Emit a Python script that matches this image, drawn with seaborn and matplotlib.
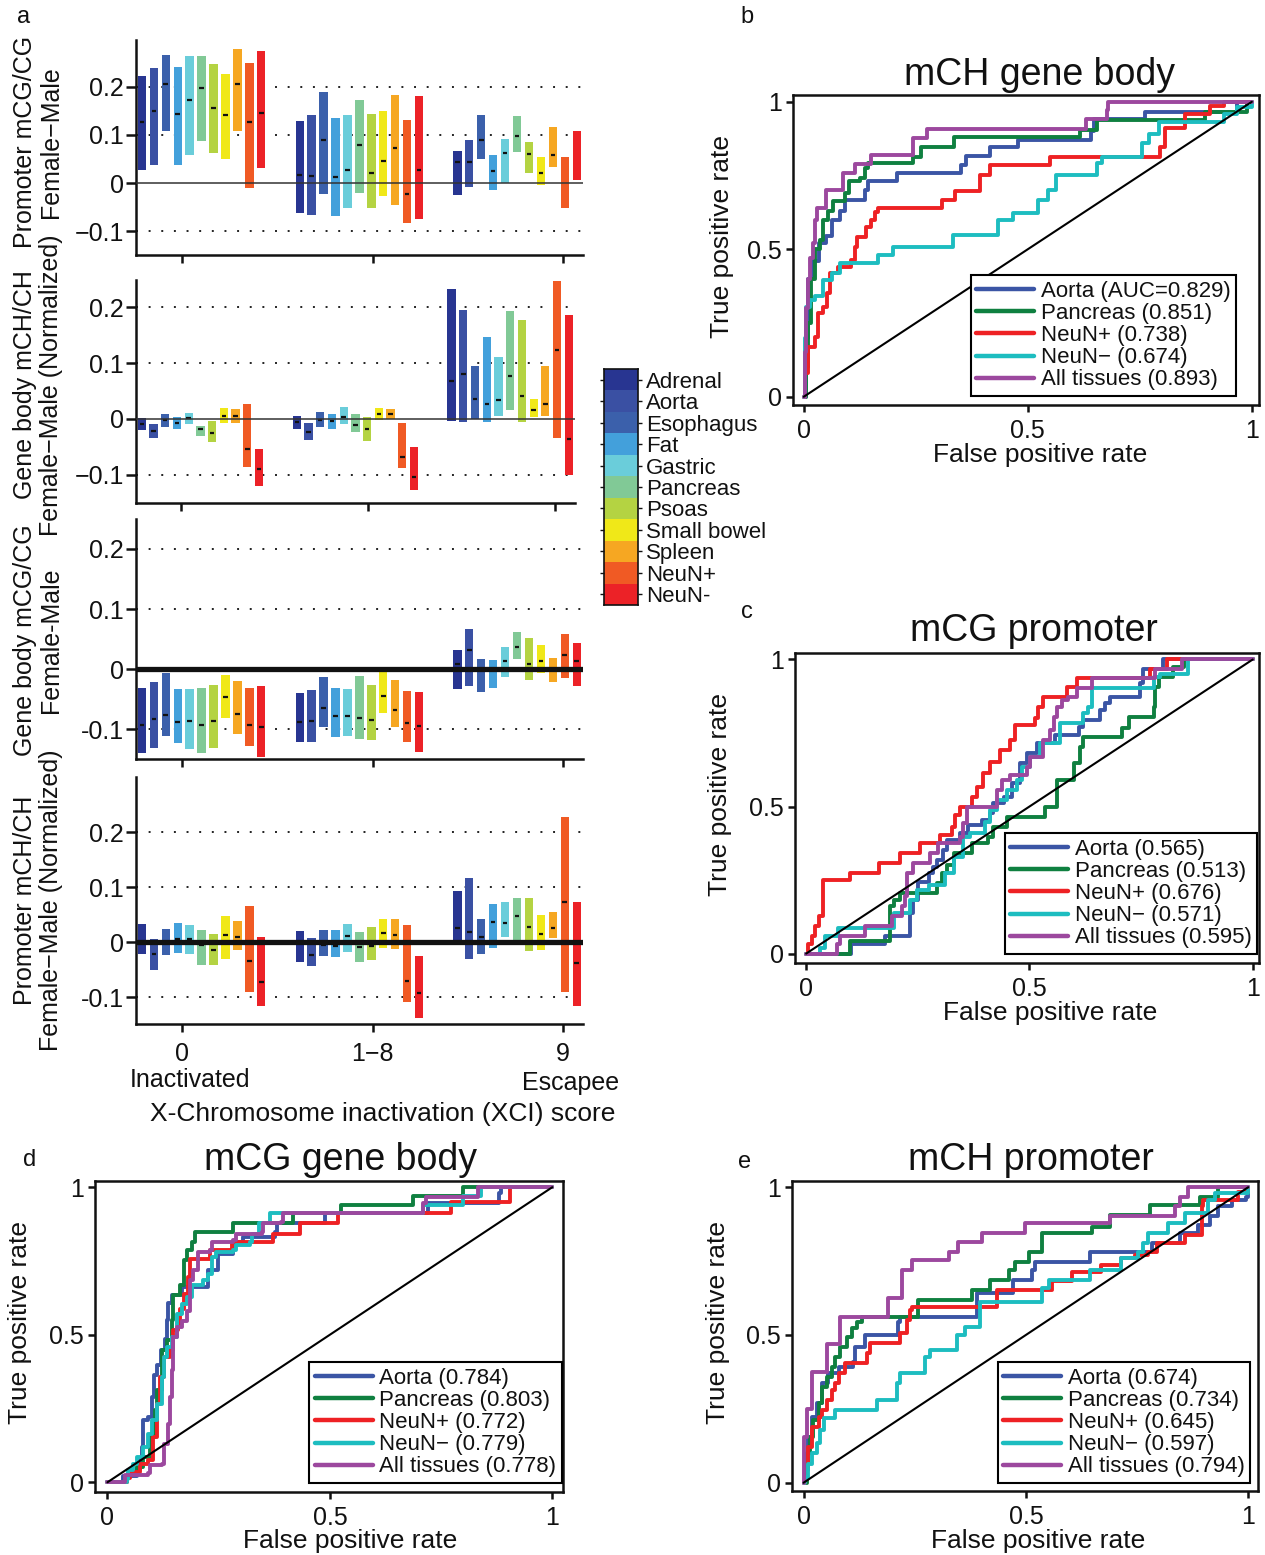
import numpy as np
import pandas as pd
import matplotlib
matplotlib.use("Agg")
import matplotlib.pyplot as plt
import seaborn as sns
from matplotlib.colors import ListedColormap

# ---------------------------------------------------------------- data
tissues = ["Adrenal", "Aorta", "Esophagus", "Fat", "Gastric", "Pancreas",
           "Psoas", "Small bowel", "Spleen", "NeuN+", "NeuN-"]
tissue_colors = ["#283591", "#3a50a3", "#3b60ab", "#43a0db", "#6acdda", "#81c996",
                 "#b4d342", "#f0e818", "#f6a722", "#f05a24", "#ec2227"]
xci_tick_labels = ["0", "1\u22128", "9"]
nan = float("nan")

# panel a1 : Promoter mCG/CG Female-Male   (one list per XCI group: 0, 1-8, 9)
prom_mcg_high = [[0.222, 0.239, 0.266, 0.242, 0.263, 0.263, 0.248, 0.227, 0.278, 0.250, 0.275],
                 [0.130, 0.141, 0.189, 0.135, 0.142, 0.173, 0.143, 0.149, 0.182, 0.131, 0.181],
                 [0.066, 0.090, 0.142, 0.058, 0.092, 0.139, 0.086, 0.054, 0.117, 0.054, 0.109]]
prom_mcg_low = [[0.028, 0.037, 0.108, 0.038, 0.059, 0.088, 0.063, 0.051, 0.108, -0.010, 0.032],
                [-0.062, -0.066, -0.023, -0.068, -0.052, -0.020, -0.052, -0.026, -0.045, -0.082, -0.074],
                [-0.024, -0.008, 0.050, -0.014, 0.000, 0.065, 0.022, -0.004, 0.033, -0.052, 0.007]]
prom_mcg_med = [[0.127, 0.150, 0.206, 0.144, 0.172, 0.197, 0.156, 0.141, 0.206, 0.127, 0.146],
                [0.017, 0.014, 0.090, 0.012, 0.028, 0.079, 0.021, 0.046, 0.073, -0.023, 0.028],
                [0.043, 0.044, 0.090, 0.026, 0.063, 0.097, 0.061, 0.022, 0.059, nan, nan]]

# panel a2 : Gene body mCH/CH Female-Male (Normalized)
body_mch_high = [[0.002, -0.010, 0.008, 0.004, 0.011, -0.012, -0.004, 0.020, 0.017, 0.026, -0.055],
                 [0.005, -0.007, 0.013, 0.008, 0.021, 0.008, 0.004, 0.020, 0.018, -0.007, -0.051],
                 [0.232, 0.196, 0.095, 0.147, 0.110, 0.193, 0.178, 0.035, 0.095, 0.248, 0.186]]
body_mch_low = [[-0.020, -0.034, -0.014, -0.018, -0.010, -0.031, -0.041, -0.008, -0.007, -0.086, -0.120],
                [-0.019, -0.038, -0.014, -0.018, -0.010, -0.023, -0.040, -0.003, 0.000, -0.088, -0.128],
                [-0.004, -0.005, 0.000, -0.005, 0.005, 0.015, -0.005, 0.004, 0.005, -0.034, -0.101]]
body_mch_med = [[-0.009, -0.022, -0.003, -0.008, 0.001, -0.019, -0.025, 0.005, 0.005, -0.055, -0.090],
                [-0.005, -0.023, -0.003, -0.004, 0.004, -0.011, -0.019, 0.008, 0.009, -0.068, -0.104],
                [0.068, 0.081, 0.036, 0.026, 0.034, 0.076, 0.041, 0.016, 0.026, 0.124, -0.037]]

# panel a3 : Gene body mCG/CG Female-Male
body_mcg_high = [[-0.031, -0.022, -0.006, -0.033, -0.033, -0.031, -0.026, -0.010, -0.020, -0.031, -0.029],
                 [-0.040, -0.035, -0.014, -0.032, -0.034, -0.011, -0.026, 0.004, -0.018, -0.037, -0.038],
                 [0.032, 0.067, 0.017, 0.015, 0.036, 0.061, 0.052, 0.040, 0.018, 0.058, 0.044]]
body_mcg_low = [[-0.140, -0.131, -0.111, -0.123, -0.133, -0.140, -0.132, -0.082, -0.109, -0.128, -0.147],
                [-0.122, -0.121, -0.097, -0.114, -0.112, -0.116, -0.119, -0.074, -0.097, -0.121, -0.138],
                [-0.033, -0.028, -0.039, -0.032, -0.014, 0.017, -0.018, -0.007, -0.021, -0.015, -0.029]]
body_mcg_med = [[-0.094, -0.083, -0.076, -0.088, -0.086, -0.094, -0.086, -0.047, -0.075, -0.094, -0.096],
                [-0.088, -0.086, -0.065, -0.079, -0.079, -0.081, -0.085, -0.045, -0.069, -0.090, -0.095],
                [0.008, 0.032, 0.000, 0.000, 0.014, 0.037, 0.008, 0.013, 0.000, 0.024, 0.013]]

# panel a4 : Promoter mCH/CH Female-Male (Normalized)
prom_mch_high = [[0.032, 0.006, 0.024, 0.034, 0.031, 0.021, 0.014, 0.048, 0.038, 0.065, 0.010],
                 [0.020, 0.008, 0.021, 0.022, 0.033, 0.018, 0.028, 0.042, 0.042, 0.031, -0.026],
                 [0.093, 0.116, 0.041, 0.070, 0.073, 0.080, 0.080, 0.050, 0.055, 0.228, 0.072]]
prom_mch_low = [[-0.022, -0.050, -0.024, -0.020, -0.022, -0.042, -0.041, -0.030, -0.015, -0.091, -0.116],
                [-0.037, -0.043, -0.026, -0.027, -0.019, -0.036, -0.033, -0.011, -0.013, -0.109, -0.139],
                [-0.001, -0.030, -0.022, -0.010, 0.009, -0.005, -0.017, -0.014, 0.008, -0.090, -0.117]]
prom_mch_med = [[0.000, -0.022, 0.000, 0.006, 0.005, -0.005, -0.015, 0.013, 0.009, -0.035, -0.073],
                [0.000, -0.023, -0.005, -0.007, 0.011, -0.009, -0.007, 0.016, 0.013, -0.071, -0.093],
                [0.026, 0.019, 0.009, 0.037, 0.035, 0.048, 0.027, 0.015, 0.025, 0.073, -0.038]]

# ROC curves: (false positive rate, true positive rate) step vertices
roc_colors = ["#3b55a5", "#0f8040", "#ee2124", "#1dbdc0", "#9c489e"]

b_labels = ["Aorta (AUC=0.829)", "Pancreas (0.851)", "NeuN+ (0.738)", "NeuN\u2212 (0.674)", "All tissues (0.893)"]
b_aorta = [(0, 0), (0.004, 0.2), (0.01, 0.4), (0.02, 0.46), (0.035, 0.52), (0.05, 0.545), (0.062, 0.6),
           (0.08, 0.63), (0.092, 0.667), (0.136, 0.7), (0.144, 0.73), (0.207, 0.758), (0.352, 0.786),
           (0.363, 0.815), (0.416, 0.848), (0.479, 0.87), (0.641, 0.9), (0.648, 0.94), (0.762, 0.967),
           (0.966, 1.0), (1, 1)]
b_pancreas = [(0, 0), (0.005, 0.1), (0.01, 0.25), (0.017, 0.4), (0.025, 0.5), (0.036, 0.53), (0.043, 0.6),
              (0.054, 0.63), (0.066, 0.665), (0.092, 0.69), (0.1, 0.73), (0.125, 0.74), (0.136, 0.775),
              (0.144, 0.792), (0.244, 0.814), (0.262, 0.848), (0.336, 0.882), (0.617, 0.905), (0.654, 0.939),
              (0.896, 0.967), (0.989, 1.0), (1, 1)]
b_neunp = [(0, 0), (0.002, 0.08), (0.01, 0.17), (0.025, 0.204), (0.032, 0.283), (0.043, 0.305), (0.051, 0.351),
           (0.058, 0.419), (0.077, 0.441), (0.106, 0.464), (0.114, 0.509), (0.118, 0.543), (0.14, 0.577),
           (0.151, 0.6), (0.159, 0.628), (0.166, 0.639), (0.308, 0.667), (0.337, 0.696), (0.393, 0.752),
           (0.415, 0.786), (0.55, 0.814), (0.795, 0.848), (0.806, 0.91), (0.851, 0.96), (0.907, 0.985),
           (0.937, 1.0), (1, 1)]
b_neunm = [(0, 0), (0.002, 0.2), (0.004, 0.305), (0.013, 0.328), (0.025, 0.34), (0.043, 0.396), (0.062, 0.42),
           (0.08, 0.452), (0.166, 0.48), (0.2, 0.509), (0.334, 0.549), (0.434, 0.6), (0.468, 0.622),
           (0.523, 0.667), (0.545, 0.7), (0.564, 0.752), (0.654, 0.792), (0.665, 0.814), (0.754, 0.86),
           (0.77, 0.89), (0.792, 0.933), (0.937, 0.96), (0.966, 0.983), (1, 1)]
b_all = [(0, 0), (0.003, 0.15), (0.006, 0.3), (0.01, 0.4), (0.015, 0.47), (0.02, 0.52), (0.025, 0.6),
         (0.03, 0.64), (0.05, 0.70), (0.088, 0.76), (0.114, 0.79), (0.151, 0.82), (0.244, 0.877),
         (0.274, 0.907), (0.63, 0.94), (0.676, 0.973), (0.68, 1.0), (1, 1)]

c_labels = ["Aorta (0.565)", "Pancreas (0.513)", "NeuN+ (0.676)", "NeuN\u2212 (0.571)", "All tissues (0.595)"]
c_aorta = [(0, 0), (0.101, 0.031), (0.177, 0.059), (0.233, 0.138), (0.24, 0.183), (0.251, 0.245), (0.274, 0.274),
           (0.285, 0.296), (0.293, 0.319), (0.307, 0.353), (0.315, 0.387), (0.345, 0.41), (0.363, 0.438),
           (0.393, 0.455), (0.412, 0.477), (0.419, 0.511), (0.442, 0.534), (0.46, 0.58), (0.479, 0.647),
           (0.494, 0.681), (0.516, 0.715), (0.557, 0.743), (0.61, 0.771), (0.621, 0.794), (0.658, 0.828),
           (0.669, 0.851), (0.681, 0.873), (0.748, 0.919), (0.755, 0.969), (0.8, 1.0), (1, 1)]
c_pancreas = [(0, 0), (0.099, 0.042), (0.188, 0.161), (0.196, 0.183), (0.21, 0.206), (0.293, 0.24),
              (0.304, 0.274), (0.315, 0.30), (0.33, 0.342), (0.371, 0.376), (0.408, 0.398), (0.419, 0.432),
              (0.449, 0.466), (0.535, 0.5), (0.561, 0.59), (0.599, 0.647), (0.613, 0.704), (0.621, 0.738),
              (0.707, 0.766), (0.722, 0.805), (0.778, 0.839), (0.781, 0.907), (0.789, 0.941), (0.822, 0.975),
              (0.845, 1.0), (1, 1)]
c_neunp = [(0, 0), (0.005, 0.031), (0.013, 0.059), (0.02, 0.093), (0.028, 0.127), (0.037, 0.251), (0.099, 0.274),
           (0.162, 0.308), (0.21, 0.342), (0.255, 0.376), (0.3, 0.404), (0.326, 0.432), (0.334, 0.472),
           (0.345, 0.5), (0.371, 0.534), (0.382, 0.568), (0.397, 0.613), (0.412, 0.653), (0.434, 0.692),
           (0.457, 0.726), (0.468, 0.777), (0.513, 0.8), (0.52, 0.839), (0.531, 0.873), (0.584, 0.907),
           (0.606, 0.936), (0.77, 0.969), (0.807, 1.0), (1, 1)]
c_neunm = [(0, 0), (0.031, 0.019), (0.043, 0.059), (0.072, 0.087), (0.196, 0.138), (0.233, 0.183), (0.248, 0.217),
           (0.274, 0.234), (0.311, 0.274), (0.33, 0.33), (0.352, 0.398), (0.367, 0.41), (0.401, 0.449),
           (0.412, 0.489), (0.427, 0.523), (0.449, 0.557), (0.472, 0.591), (0.483, 0.636), (0.501, 0.67),
           (0.524, 0.715), (0.569, 0.783), (0.621, 0.817), (0.632, 0.839), (0.64, 0.902), (0.778, 0.941),
           (0.793, 0.952), (0.856, 1.0), (1, 1)]
c_all = [(0, 0), (0.069, 0.031), (0.076, 0.059), (0.132, 0.093), (0.192, 0.127), (0.214, 0.161), (0.222, 0.195),
         (0.225, 0.274), (0.24, 0.308), (0.278, 0.342), (0.296, 0.376), (0.345, 0.398), (0.352, 0.443),
         (0.36, 0.5), (0.427, 0.557), (0.438, 0.591), (0.457, 0.608), (0.494, 0.636), (0.501, 0.67),
         (0.531, 0.726), (0.546, 0.76), (0.554, 0.805), (0.561, 0.839), (0.572, 0.862), (0.587, 0.873),
         (0.606, 0.902), (0.64, 0.936), (0.781, 0.969), (0.841, 1.0), (1, 1)]

d_labels = ["Aorta (0.784)", "Pancreas (0.803)", "NeuN+ (0.772)", "NeuN\u2212 (0.779)", "All tissues (0.778)"]
d_aorta = [(0, 0), (0.036, 0.02), (0.066, 0.046), (0.073, 0.075), (0.077, 0.12), (0.081, 0.21), (0.092, 0.221),
           (0.1, 0.289), (0.104, 0.363), (0.111, 0.397), (0.12, 0.447), (0.129, 0.487), (0.133, 0.549),
           (0.137, 0.606), (0.144, 0.634), (0.167, 0.662), (0.227, 0.719), (0.249, 0.775), (0.283, 0.815),
           (0.305, 0.832), (0.376, 0.849), (0.38, 0.877), (0.49, 0.911), (0.72, 0.945), (0.88, 0.979),
           (0.885, 1.0), (1, 1)]
d_pancreas = [(0, 0), (0.043, 0.02), (0.051, 0.035), (0.066, 0.052), (0.081, 0.086), (0.096, 0.154),
              (0.107, 0.244), (0.111, 0.312), (0.122, 0.447), (0.133, 0.481), (0.144, 0.549), (0.148, 0.634),
              (0.163, 0.668), (0.171, 0.753), (0.178, 0.786), (0.189, 0.815), (0.197, 0.849), (0.283, 0.877),
              (0.418, 0.911), (0.526, 0.939), (0.687, 0.969), (0.8, 1.0), (1, 1)]
d_neunp = [(0, 0), (0.043, 0.013), (0.051, 0.035), (0.073, 0.063), (0.092, 0.075), (0.103, 0.154), (0.111, 0.266),
           (0.118, 0.356), (0.126, 0.425), (0.141, 0.447), (0.148, 0.515), (0.159, 0.537), (0.163, 0.588),
           (0.171, 0.639), (0.182, 0.695), (0.186, 0.757), (0.231, 0.786), (0.279, 0.815), (0.373, 0.843),
           (0.433, 0.877), (0.519, 0.911), (0.773, 0.95), (0.904, 1.0), (1, 1)]
d_neunm = [(0, 0), (0.043, 0.01), (0.047, 0.04), (0.058, 0.063), (0.066, 0.086), (0.081, 0.12), (0.092, 0.165),
           (0.1, 0.21), (0.111, 0.266), (0.122, 0.356), (0.126, 0.425), (0.133, 0.459), (0.144, 0.492),
           (0.156, 0.571), (0.167, 0.605), (0.178, 0.628), (0.189, 0.668), (0.215, 0.685), (0.227, 0.707),
           (0.234, 0.763), (0.245, 0.78), (0.283, 0.786), (0.29, 0.803), (0.32, 0.815), (0.324, 0.843),
           (0.34, 0.877), (0.365, 0.911), (0.71, 0.94), (0.8, 0.97), (0.84, 1.0), (1, 1)]
d_all = [(0, 0), (0.036, 0.0), (0.04, 0.024), (0.092, 0.03), (0.096, 0.058), (0.122, 0.063), (0.126, 0.13),
         (0.137, 0.198), (0.141, 0.289), (0.144, 0.38), (0.148, 0.492), (0.156, 0.525), (0.167, 0.547),
         (0.178, 0.582), (0.186, 0.685), (0.193, 0.718), (0.204, 0.78), (0.231, 0.786), (0.235, 0.815),
         (0.283, 0.82), (0.29, 0.843), (0.347, 0.849), (0.35, 0.877), (0.391, 0.882), (0.395, 0.911),
         (0.71, 0.945), (0.717, 0.966), (0.833, 1.0), (1, 1)]

e_labels = ["Aorta (0.674)", "Pancreas (0.734)", "NeuN+ (0.645)", "NeuN\u2212 (0.597)", "All tissues (0.794)"]
e_aorta = [(0, 0), (0.004, 0.065), (0.011, 0.156), (0.019, 0.223), (0.03, 0.269), (0.041, 0.336), (0.056, 0.37),
           (0.079, 0.393), (0.112, 0.41), (0.116, 0.46), (0.139, 0.5), (0.213, 0.545), (0.217, 0.562),
           (0.39, 0.641), (0.472, 0.686), (0.513, 0.72), (0.521, 0.748), (0.644, 0.782), (0.783, 0.81),
           (0.846, 0.844), (0.888, 0.872), (0.914, 0.901), (0.933, 0.935), (0.963, 0.957), (0.995, 0.968),
           (1, 1)]
e_pancreas = [(0, 0), (0.007, 0.099), (0.015, 0.156), (0.022, 0.212), (0.034, 0.269), (0.041, 0.325),
              (0.052, 0.359), (0.064, 0.393), (0.071, 0.427), (0.082, 0.46), (0.097, 0.494), (0.109, 0.523),
              (0.12, 0.545), (0.131, 0.562), (0.258, 0.619), (0.378, 0.652), (0.419, 0.686), (0.461, 0.72),
              (0.476, 0.748), (0.506, 0.782), (0.536, 0.844), (0.648, 0.867), (0.689, 0.906), (0.779, 0.94),
              (0.891, 0.968), (0.933, 1.0), (1, 1)]
e_neunp = [(0, 0), (0.004, 0.043), (0.011, 0.122), (0.019, 0.19), (0.034, 0.223), (0.041, 0.246), (0.052, 0.28),
           (0.064, 0.314), (0.071, 0.336), (0.079, 0.37), (0.094, 0.404), (0.142, 0.438), (0.15, 0.472),
           (0.217, 0.506), (0.232, 0.551), (0.24, 0.585), (0.243, 0.596), (0.434, 0.652), (0.558, 0.681),
           (0.603, 0.714), (0.67, 0.737), (0.715, 0.76), (0.745, 0.77), (0.775, 0.782), (0.794, 0.81),
           (0.858, 0.839), (0.895, 0.935), (0.899, 0.957), (0.978, 0.985), (1, 1)]
e_neunm = [(0, 0), (0.004, 0.02), (0.011, 0.065), (0.019, 0.099), (0.03, 0.133), (0.037, 0.178), (0.045, 0.218),
           (0.071, 0.246), (0.165, 0.28), (0.21, 0.336), (0.217, 0.37), (0.273, 0.427), (0.285, 0.449),
           (0.345, 0.5), (0.363, 0.528), (0.397, 0.613), (0.536, 0.658), (0.551, 0.686), (0.644, 0.72),
           (0.715, 0.76), (0.753, 0.782), (0.764, 0.81), (0.775, 0.844), (0.82, 0.878), (0.858, 0.912),
           (0.91, 0.957), (0.925, 0.98), (1, 1)]
e_all = [(0, 0), (0.0, 0.156), (0.007, 0.25), (0.019, 0.376), (0.052, 0.47), (0.082, 0.562), (0.191, 0.624),
         (0.221, 0.72), (0.243, 0.754), (0.326, 0.782), (0.348, 0.816), (0.401, 0.844), (0.498, 0.878),
         (0.689, 0.901), (0.835, 0.935), (0.846, 0.968), (0.865, 1.0), (1, 1)]

# ---------------------------------------------------------------- style
sns.set_theme(style="ticks", rc={"axes.edgecolor": "#111111", "xtick.color": "#111111",
                                 "ytick.color": "#111111", "text.color": "#111111",
                                 "axes.labelcolor": "#111111", "axes.linewidth": 1.8})
plt.rcParams["font.family"] = ["Liberation Sans", "DejaVu Sans"]
plt.rcParams["axes.unicode_minus"] = True

W, H = 1265, 1555
fig = plt.figure(figsize=(W / 100, H / 100), dpi=100)


def px_rect(l, t, r, b):
    return [l / W, 1 - b / H, (r - l) / W, (b - t) / H]


def fxy(x, y):
    return (x / W, 1 - y / H)


# ---------------------------------------------------------------- panel a
group_starts = [-0.212, 0.617, 1.445]
bar_step = 0.0627
bar_width = 0.044
med_half = 0.012


def draw_xci(rect, low, high, med, ylim, minus, thick_zero, ylab, ylab_y, bottom=False):
    ax = fig.add_axes(px_rect(*rect))
    for g in range(3):
        xs = group_starts[g] + bar_step * np.arange(len(tissues))
        lo = np.array(low[g], dtype=float)
        hi = np.array(high[g], dtype=float)
        md = np.array(med[g], dtype=float)
        ax.bar(xs, hi - lo, bottom=lo, width=bar_width, color=tissue_colors, linewidth=0, zorder=2)
        ok = ~np.isnan(md)
        ax.hlines(md[ok], xs[ok] - med_half, xs[ok] + med_half, colors="#111111", lw=1.6, zorder=3)
    for yv in (-0.1, 0.1, 0.2):
        ax.axhline(yv, color="#222222", lw=1.4, ls=(0, (1, 5.5)), zorder=1)
    if thick_zero:
        ax.axhline(0, color="#111111", lw=3.8, zorder=4)
    else:
        ax.axhline(0, color="#333333", lw=1.1, zorder=4)
    ax.set_xlim(-0.243, 2.105)
    ax.set_ylim(*ylim)
    ax.set_xticks([0, 1, 2])
    ax.set_yticks([-0.1, 0, 0.1, 0.2])
    ax.set_yticklabels([minus + "0.1", "0", "0.1", "0.2"])
    ax.tick_params(axis="y", direction="out", length=7, width=1.8, pad=1.5, labelsize=18)
    ax.tick_params(axis="x", direction="out", length=6, width=1.8, pad=7, labelsize=18)
    if bottom:
        ax.set_xticklabels(xci_tick_labels)
    else:
        ax.set_xticklabels([])
    sns.despine(ax=ax)
    fig.text(*fxy(38, ylab_y), ylab, rotation=90, ha="center", va="center",
             multialignment="center", fontsize=18, linespacing=1.1)
    return ax


draw_xci((136, 40, 583, 255), prom_mcg_low, prom_mcg_high, prom_mcg_med, (-0.149, 0.297), "\u2212", False,
         "Promoter mCG/CG\nFemale\u2212Male", 142)
draw_xci((136, 280, 575, 503), body_mch_low, body_mch_high, body_mch_med, (-0.151, 0.249), "\u2212", False,
         "Gene body mCH/CH\nFemale\u2212Male (Normalized)", 385)
draw_xci((136, 519, 583, 759), body_mcg_low, body_mcg_high, body_mcg_med, (-0.15, 0.25), "-", True,
         "Gene body mCG/CG\nFemale-Male", 640)
ax4 = draw_xci((136, 777, 583, 1024), prom_mch_low, prom_mch_high, prom_mch_med, (-0.149, 0.30), "-", True,
               "Promoter mCH/CH\nFemale\u2212Male (Normalized)", 900, bottom=True)
fig.text(*fxy(190, 1080), "Inactivated", ha="center", va="center", fontsize=18)
fig.text(*fxy(571, 1083), "Escapee", ha="center", va="center", fontsize=18)
ax4.set_xlabel("X-Chromosome inactivation (XCI) score", fontsize=19)
ax4.xaxis.set_label_coords(*fxy(383, 1114), transform=fig.transFigure)
ax4.xaxis.label.set_va("center")

# tissue colour key
lax = fig.add_axes(px_rect(604, 369, 638, 605))
lax.imshow(np.arange(len(tissues)).reshape(-1, 1), cmap=ListedColormap(tissue_colors), vmin=-0.5,
           vmax=len(tissues) - 0.5, aspect="auto", interpolation="nearest",
           extent=(0, 1, len(tissues) - 0.5, -0.5))
lax.set_xticks([])
lax.set_yticks(range(len(tissues)))
lax.set_yticklabels(tissues, fontsize=16)
lax.tick_params(axis="y", left=True, right=True, labelleft=False, labelright=True,
                direction="out", length=3, width=1, pad=3)
for sp in lax.spines.values():
    sp.set_visible(True)
    sp.set_linewidth(1.2)


# ---------------------------------------------------------------- ROC panels
def draw_roc(rect, xlim, ylim, curves, labels, title, title_c, xlab_c, ylab_c, leg_corner):
    l, t, r, b = rect
    ax = fig.add_axes(px_rect(*rect))
    for pts, lab, col in zip(curves, labels, roc_colors):
        df = pd.DataFrame(pts, columns=["fpr", "tpr"])
        sns.lineplot(data=df, x="fpr", y="tpr", ax=ax, color=col, lw=2.8, label=lab,
                     estimator=None, sort=False, drawstyle="steps-post")
    ax.plot([0, 1], [0, 1], color="black", lw=1.5, zorder=5)
    ax.set_xlim(*xlim)
    ax.set_ylim(*ylim)
    ax.set_xticks([0, 0.5, 1])
    ax.set_xticklabels(["0", "0.5", "1"])
    ax.set_yticks([0, 0.5, 1])
    ax.set_yticklabels(["0", "0.5", "1"])
    ax.tick_params(axis="both", direction="out", length=5, width=1.8, labelsize=18)
    ax.tick_params(axis="x", pad=5)
    ax.tick_params(axis="y", pad=3)
    for sp in ax.spines.values():
        sp.set_linewidth(1.8)
    ax.set_xlabel("False positive rate", fontsize=19)
    ax.set_ylabel("True positive rate", fontsize=19)
    ax.xaxis.set_label_coords(*fxy(*xlab_c), transform=fig.transFigure)
    ax.yaxis.set_label_coords(*fxy(*ylab_c), transform=fig.transFigure)
    ax.xaxis.label.set_va("center")
    ax.yaxis.label.set_va("center")
    ax.set_title(title, fontsize=27, x=(title_c[0] - l) / (r - l), y=(b - title_c[1]) / (b - t), va="center")
    leg = ax.legend(loc="lower right", bbox_to_anchor=fxy(*leg_corner), bbox_transform=fig.transFigure,
                    fontsize=16, frameon=True, fancybox=False, edgecolor="black", framealpha=1,
                    borderpad=0.25, labelspacing=0.05, handlelength=2.6, handletextpad=0.3,
                    borderaxespad=0)
    leg.get_frame().set_linewidth(1.5)
    for h in leg.get_lines():
        h.set_linewidth(3.2)
    return ax


draw_roc((793, 95, 1259, 405), (-0.024, 1.016), (-0.028, 1.023),
         [b_aorta, b_pancreas, b_neunp, b_neunm, b_all], b_labels, "mCH gene body",
         (1040, 83), (1040, 455), (722, 237), (1236, 396))
draw_roc((795, 653, 1259, 963), (-0.025, 1.014), (-0.032, 1.022),
         [c_aorta, c_pancreas, c_neunp, c_neunm, c_all], c_labels, "mCG promoter",
         (1034, 639), (1050, 1013), (720, 795), (1257, 954))
draw_roc((95, 1181, 563, 1492), (-0.028, 1.024), (-0.033, 1.021),
         [d_aorta, d_pancreas, d_neunp, d_neunm, d_all], d_labels, "mCG gene body",
         (340, 1168), (350, 1541), (20, 1323), (562, 1483))
draw_roc((792, 1181, 1258, 1491), (-0.026, 1.022), (-0.028, 1.021),
         [e_aorta, e_pancreas, e_neunp, e_neunm, e_all], e_labels, "mCH promoter",
         (1031, 1168), (1038, 1541), (718, 1323), (1250, 1483))

# panel letters
for letter, (x, y) in zip("abcde", [(24, 17), (747, 17), (747, 612), (30, 1160), (745, 1162)]):
    fig.text(*fxy(x, y), letter, fontsize=17, ha="center", va="center")

fig.savefig("out.png", dpi=100)
